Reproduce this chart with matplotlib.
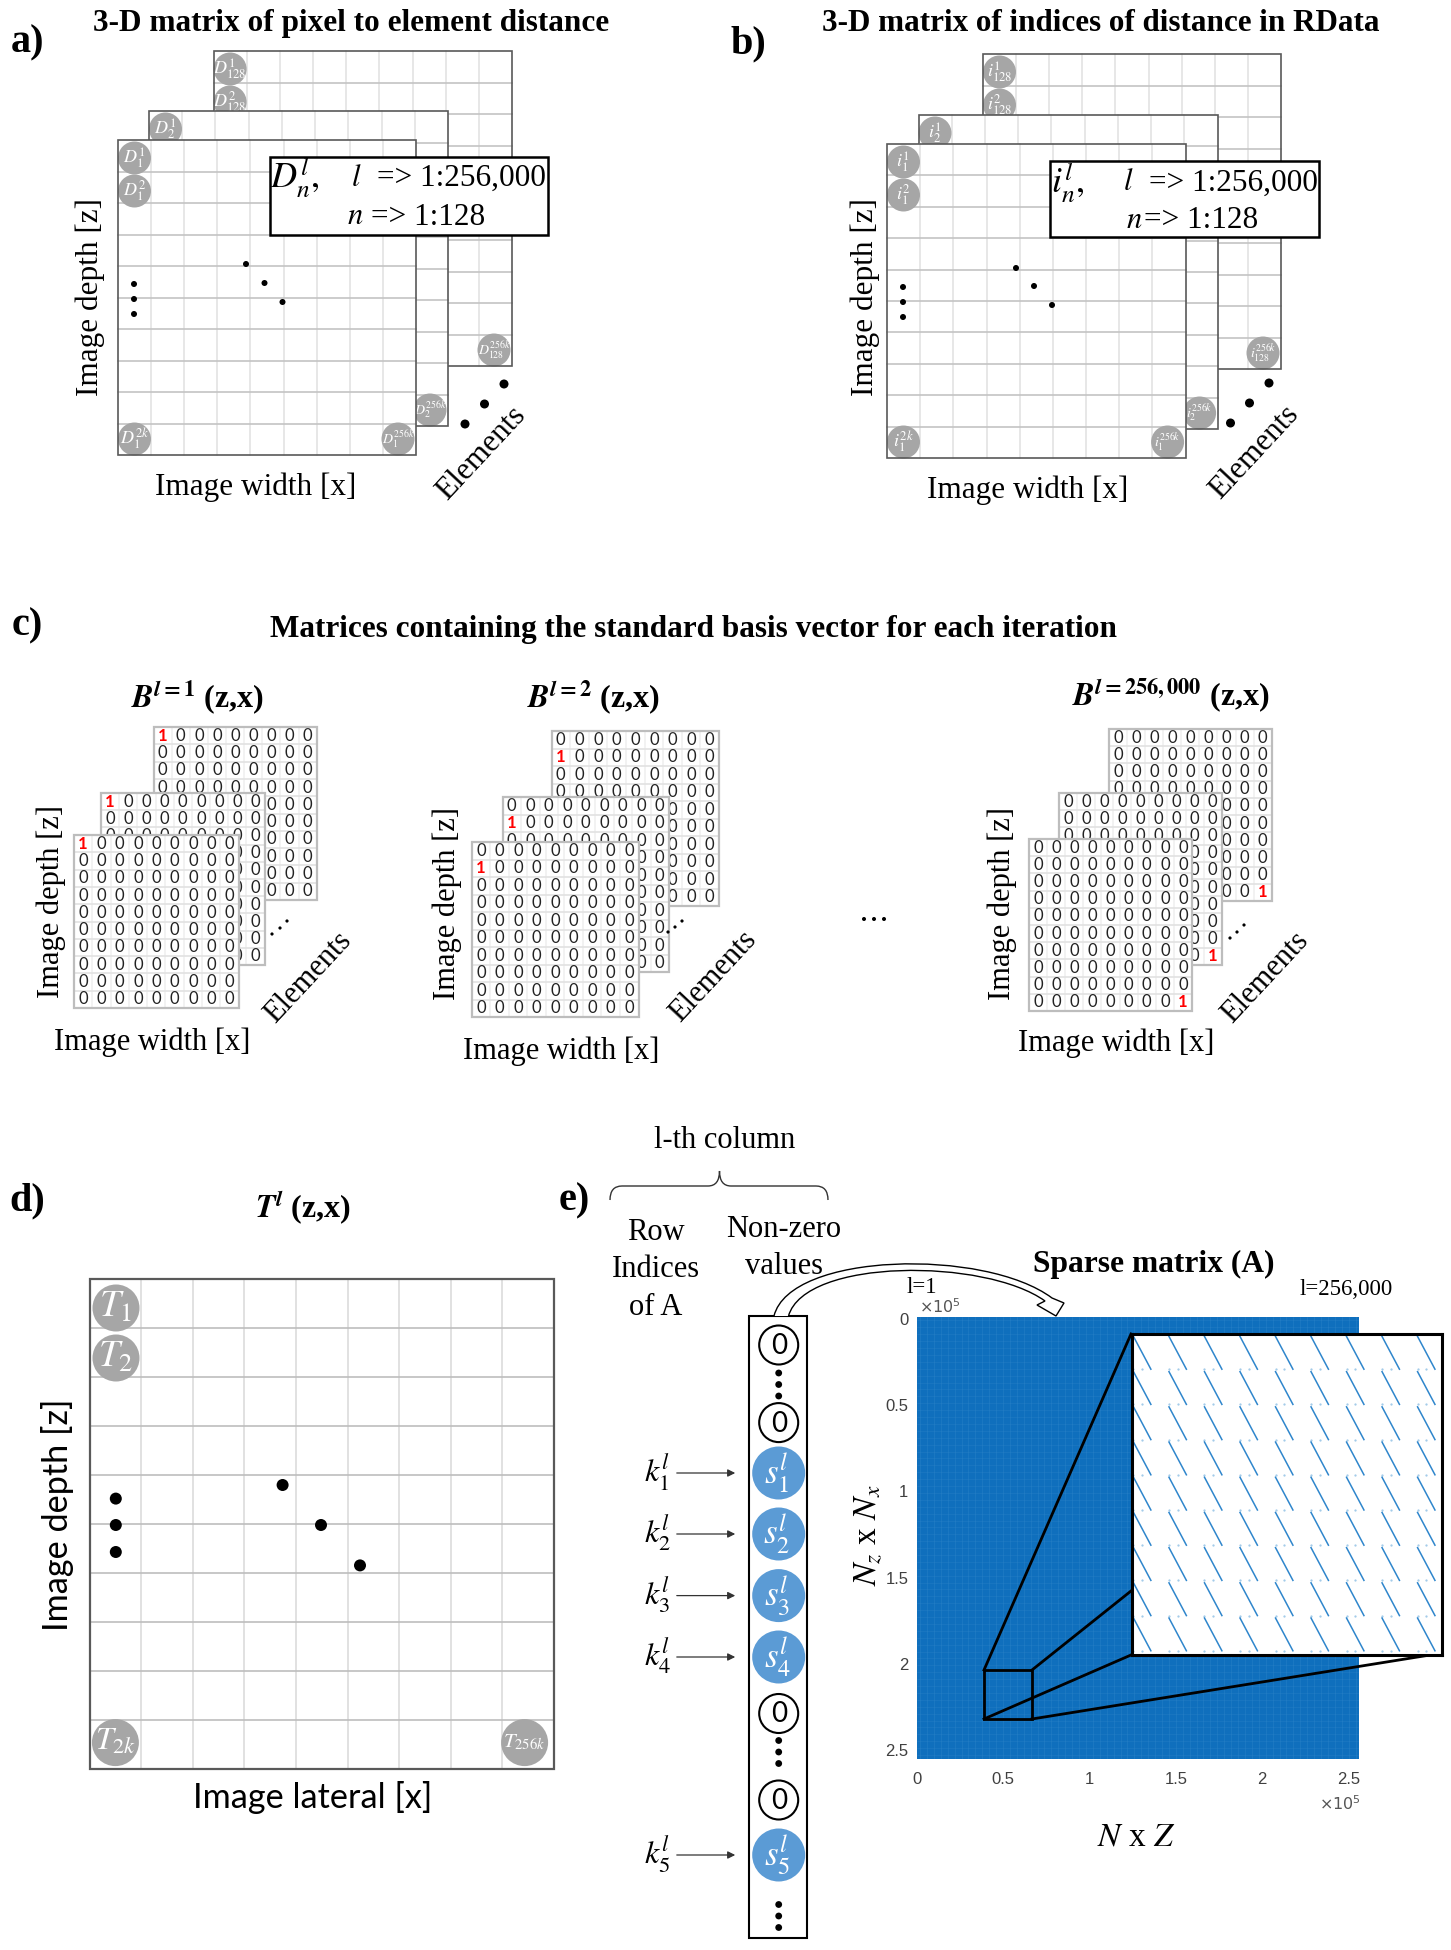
import matplotlib
matplotlib.use("Agg")
import matplotlib.pyplot as plt
import numpy as np
from matplotlib.font_manager import FontProperties
from matplotlib.patches import Circle, PathPatch, Rectangle
from matplotlib.path import Path
from matplotlib.textpath import TextPath
from matplotlib.transforms import ScaledTranslation

plt.rcParams["mathtext.fontset"] = "stix"
plt.rcParams["font.family"] = ["Liberation Serif", "DejaVu Sans"]

W, H = 1451, 1950
SERIF = "Liberation Serif"
GRAY = "#a6a6a6"
BLUE = "#5b9bd5"
SPY_BLUE = "#0f6fbd"

# =============================================================================
# CHART CONTENT
# =============================================================================

title_a = "3-D matrix of pixel to element distance"
title_b = "3-D matrix of indices of distance in RData"
title_c = "Matrices containing the standard basis vector for each iteration"

# circle labels: top row, second row, bottom left, bottom right
labels_a = [
    [r"$D_{128}^{1}$", r"$D_{128}^{2}$", "", r"$D_{128}^{256k}$"],
    [r"$D_{2}^{1}$", "", "", r"$D_{2}^{256k}$"],
    [r"$D_{1}^{1}$", r"$D_{1}^{2}$", r"$D_{1}^{2k}$", r"$D_{1}^{256k}$"],
]
labels_b = [
    [r"$i_{128}^{1}$", r"$i_{128}^{2}$", "", r"$i_{128}^{256k}$"],
    [r"$i_{2}^{1}$", "", "", r"$i_{2}^{256k}$"],
    [r"$i_{1}^{1}$", r"$i_{1}^{2}$", r"$i_{1}^{2k}$", r"$i_{1}^{256k}$"],
]
labels_d = [r"$T_1$", r"$T_2$", r"$T_{2k}$", r"$T_{256k}$"]

# (row, column) of the red 1 in the matrices of panel c
one_cells = [(0, 0), (1, 0), (9, 8)]
basis_titles = [
    r"$\mathbfit{B}^{\mathbfit{l}\mathbf{=1}}$ (z,x)",
    r"$\mathbfit{B}^{\mathbfit{l}\mathbf{=2}}$ (z,x)",
    r"$\mathbfit{B}^{\mathbfit{l}\mathbf{=256,000}}$ (z,x)",
]

column_entries = ["0", "dots", "0", "s1", "s2", "s3", "s4", "0", "dots", "0", "s5", "dots"]

spy_ticks = [0, 0.5, 1, 1.5, 2, 2.5]
spy_ticklabels = ["0", "0.5", "1", "1.5", "2", "2.5"]
spy_limit = 2.56

# =============================================================================
# HELPERS
# =============================================================================


def fit(s, width, family=SERIF, weight="normal"):
    """Font size in points that makes plain text s about width pixels wide."""
    fp = FontProperties(family=family, weight=weight)
    w = TextPath((0, 0), s, size=10, prop=fp).get_extents().width
    return 10 * width / w * 72 / 100


def label(x, y, s, size=22, **kw):
    kw.setdefault("ha", "center")
    kw.setdefault("va", "center")
    kw.setdefault("zorder", 60)
    # plain text sits a little high when centred
    if "$" not in s:
        rot = kw.get("rotation", 0)
        if rot == 90:
            x += 2.5
        elif rot == 0:
            y += 2.5
        else:
            x += 3
    ax.text(x, y, s, fontsize=size, **kw)


def dot(x, y, r, z=60, color="black"):
    ax.add_patch(Circle((x, y), r, fc=color, ec="none", zorder=z))


def frame(x0, y0, x1, y1, z, edge="#595959", hgrid="#c4c4c4", vgrid="#e0e0e0", lw=1.2):
    ax.add_patch(Rectangle((x0, y0), x1 - x0, y1 - y0, fc="white", ec="none", zorder=z))
    for x in np.linspace(x0, x1, 10)[1:-1]:
        ax.plot([x, x], [y0, y1], color=vgrid, lw=1.1, zorder=z + 0.1)
    for y in np.linspace(y0, y1, 11)[1:-1]:
        ax.plot([x0, x1], [y, y], color=hgrid, lw=1.2, zorder=z + 0.1)
    ax.add_patch(Rectangle((x0, y0), x1 - x0, y1 - y0, fc="none", ec=edge, lw=lw, zorder=z + 0.4))


def stack(frames, names):
    for k, (box, texts) in enumerate(zip(frames, names)):
        x0, y0, x1, y1 = box
        z = 10 + 3 * k
        frame(x0, y0, x1, y1, z)
        spots = [
            (x0 + 16.5, y0 + 18),
            (x0 + 16.5, y0 + 51),
            (x0 + 16.5, y1 - 16),
            (x1 - 18, y1 - 16),
        ]
        for (cx, cy), s in zip(spots, texts):
            if not s:
                continue
            ax.add_patch(Circle((cx, cy), 16.5, fc=GRAY, ec="none", zorder=z + 0.2))
            ax.text(cx, cy, s, color="white", fontsize=10 if "256k" in s else 13,
                    ha="center", va="center", zorder=z + 0.3)


def zero_matrix(x0, y0, x1, y1, z, one, covers=()):
    frame(x0, y0, x1, y1, z, edge="#bdbdbd", hgrid="#e2e2e2", vgrid="#efefef", lw=1.6)
    dx = (x1 - x0) / 9
    dy = (y1 - y0) / 10
    for r in range(10):
        for c in range(9):
            cx, cy = x0 + (c + 0.5) * dx, y0 + (r + 0.5) * dy
            # digits that a frame in front hides completely are left out
            if any(b[0] < cx - 6 and cx + 6 < b[2] and b[1] < cy - 8 and cy + 8 < b[3] for b in covers):
                continue
            if (r, c) == one:
                ax.text(cx, cy, "1", color="red", fontsize=12, family="Lato", weight="bold",
                        ha="center", va="center", zorder=z + 0.3)
            else:
                ax.text(cx, cy, "0", color="#222222", fontsize=12, family="Lato",
                        ha="center", va="center", zorder=z + 0.3)


# =============================================================================
# FIGURE
# =============================================================================

fig = plt.figure(figsize=(W / 100, H / 100), dpi=100)
ax = fig.add_axes([0, 0, 1, 1], zorder=2)
ax.set_xlim(0, W)
ax.set_ylim(H, 0)
ax.axis("off")

# -----------------------------------------------------------------------------
# a) and b)
# -----------------------------------------------------------------------------
label(28, 40, "a)", 29, weight="bold")
label(351.5, 21, title_a, fit(title_a, 513, weight="bold"), weight="bold")
stack([(213.6, 51, 512, 366), (149, 111, 448, 426), (118, 140, 416, 455)], labels_a)
label(88, 297, "Image depth [z]", 22.5, rotation=90)
label(256, 485, "Image width [x]", 22.5)
label(478.5, 453, "Elements", 22.5, rotation=47)
for x, y in [(134, 284), (134, 299), (134, 314), (246, 264), (264.5, 283), (282.5, 302)]:
    dot(x, y, 3)
for x, y in [(465, 424), (484.5, 404), (504, 384)]:
    dot(x, y, 4.5)

ax.add_patch(Rectangle((270, 157), 278, 78, fc="white", ec="black", lw=1.8, zorder=50))
label(270, 178, r"$D_n^l,$", 26, ha="left")
label(351, 178, r"$l$", 22, ha="left")
label(377, 176, "=> 1:256,000", 22.5, ha="left")
label(347, 217, r"$n$", 22, ha="left")
label(371, 215, "=> 1:128", 22.5, ha="left")

label(748, 41, "b)", 29, weight="bold")
label(1101, 21, title_b, fit(title_b, 556, weight="bold"), weight="bold")
stack([(983, 54, 1281, 369), (918.5, 115, 1217.6, 429), (887, 144, 1185.6, 458)], labels_b)
label(862.5, 297.5, "Image depth [z]", 22.5, rotation=90)
label(1027.5, 488, "Image width [x]", 22.5)
label(1251, 452, "Elements", 22.5, rotation=47)
for x, y in [(903, 287), (903, 302), (903, 317), (1016, 268), (1034, 286), (1052, 305)]:
    dot(x, y, 3)
for x, y in [(1230.5, 423), (1249.5, 403), (1269, 383)]:
    dot(x, y, 4.5)

ax.add_patch(Rectangle((1049.5, 161), 269, 76, fc="white", ec="black", lw=1.8, zorder=50))
label(1051, 183, r"$i_n^l,$", 26, ha="left")
label(1123, 183, r"$l$", 22, ha="left")
label(1148.6, 181, "=> 1:256,000", 22.5, ha="left")
label(1126, 220, r"$n$", 22, ha="left")
label(1144, 218, "=> 1:128", 22.5, ha="left")

# -----------------------------------------------------------------------------
# c)
# -----------------------------------------------------------------------------
label(27, 623, "c)", 29, weight="bold")
label(694, 627, title_c, fit(title_c, 844, weight="bold"), weight="bold")

sets = [
    dict(
        boxes=[(153.5, 727, 316.7, 900), (101, 793, 264.5, 965), (74, 835, 238.6, 1008)],
        depth=(48.5, 902), width=(152.5, 1040), elem=(305, 977),
        dots=[(272, 934), (280, 928), (287, 921)], title=(197, 697),
    ),
    dict(
        boxes=[(551.5, 731, 719, 906), (502.5, 797, 669, 972), (471.6, 842, 638.5, 1017)],
        depth=(445, 903), width=(561, 1049), elem=(710, 976),
        dots=[(668, 932), (675, 927), (682, 921)], title=(593, 697),
    ),
    dict(
        boxes=[(1109, 729, 1271.7, 901), (1059, 793, 1221.7, 965), (1029, 839, 1192, 1011)],
        depth=(1000, 904), width=(1116, 1041), elem=(1262, 977),
        dots=[(1230, 938), (1237, 932), (1244, 925)], title=(1171, 695),
    ),
]
for s, one, ttl in zip(sets, one_cells, basis_titles):
    for k, box in enumerate(s["boxes"]):
        zero_matrix(*box, 10 + 3 * k, one, covers=s["boxes"][k + 1:])
    label(*s["depth"], "Image depth [z]", 22, rotation=90)
    label(*s["width"], "Image width [x]", 22)
    label(*s["elem"], "Elements", 22, rotation=47)
    for x, y in s["dots"]:
        dot(x, y, 1.6)
    label(*s["title"], ttl, 23, weight="bold")
for x in [864, 874, 884]:
    dot(x, 919, 2)

# -----------------------------------------------------------------------------
# d)
# -----------------------------------------------------------------------------
label(27, 1198, "d)", 29, weight="bold")
label(303, 1207, r"$\mathbfit{T}^{\mathbfit{l}}$ (z,x)", 23, weight="bold")
frame(89.5, 1278.7, 554, 1768.8, 10, hgrid="#bdbdbd", vgrid="#d9d9d9", lw=1.6)
for (cx, cy), s, size in zip(
    [(116, 1308), (116, 1358), (115.4, 1742.6), (524.6, 1742.6)],
    labels_d, [27, 27, 23, 15]
):
    ax.add_patch(Circle((cx, cy), 23.5, fc=GRAY, ec="none", zorder=11))
    label(cx, cy, s, size, color="white", zorder=12)
for x, y in [(115.8, 1498.6), (115.8, 1525), (115.8, 1552),
             (282.6, 1485), (321, 1525), (360, 1565.4)]:
    dot(x, y, 6)
s = "Image depth [z]"
label(55.5, 1515, s, fit(s, 226, "Lato"), rotation=90, family="Lato")
s = "Image lateral [x]"
label(312.7, 1795, s, fit(s, 233, "Lato"), family="Lato")

# -----------------------------------------------------------------------------
# e)
# -----------------------------------------------------------------------------
label(574, 1198, "e)", 29, weight="bold")
label(725, 1137.5, "l-th column", 22)

# brace over the two column titles
brace = Path(
    [(610, 1200), (610, 1186), (622, 1186), (708, 1186), (719.5, 1186), (719.5, 1171),
     (719.5, 1186), (731, 1186), (816, 1186), (828, 1186), (828, 1200)],
    [Path.MOVETO, Path.CURVE3, Path.CURVE3, Path.LINETO, Path.CURVE3, Path.CURVE3,
     Path.CURVE3, Path.CURVE3, Path.LINETO, Path.CURVE3, Path.CURVE3],
)
ax.add_patch(PathPatch(brace, fc="none", ec="#333333", lw=1.0, zorder=5))

for y, s in zip([1229.5, 1267, 1304.6], ["Row", "Indices", "of A"]):
    label(656, y, s, 22)
for y, s in zip([1227, 1264], ["Non-zero", "values"]):
    label(784, y, s, 22)

# column of the sparse matrix
ax.add_patch(Rectangle((749, 1316), 58.4, 622, fc="white", ec="black", lw=1.5, zorder=5))
column_y = [1345, 1384.5, 1422.6, 1473, 1534, 1595.6, 1657, 1713.5, 1752, 1800, 1855, 1916]
for entry, y in zip(column_entries, column_y):
    if entry == "0":
        ax.add_patch(Circle((778.7, y), 19.5, fc="white", ec="black", lw=1.5, zorder=6))
        label(778.7, y - 1.5, "0", 20, family="Lato")
    elif entry == "dots":
        for dy in (-11.5, 0, 11.5):
            dot(778.7, y + dy, 3.4)
    else:
        n = entry[1]
        ax.add_patch(Circle((778.7, y), 26.5, fc=BLUE, ec="none", zorder=6))
        label(777, y, rf"$s_{n}^l$", 25, color="white")
        label(657, y, rf"$k_{n}^l$", 23)
        ax.annotate("", xy=(738, y), xytext=(674, y), zorder=6,
                    arrowprops=dict(arrowstyle="-|>", color="#333333", lw=0.9, mutation_scale=11))

# hollow arrow from the column to the matrix
arrow = Path(
    [(774, 1316), (790, 1252), (985, 1248), (1052, 1298), (1064, 1303), (1056, 1316),
     (1037, 1305), (1045, 1301), (985, 1258), (805, 1258), (788.5, 1316)],
    [Path.MOVETO, Path.CURVE4, Path.CURVE4, Path.CURVE4, Path.LINETO, Path.LINETO,
     Path.LINETO, Path.LINETO, Path.CURVE4, Path.CURVE4, Path.CURVE4],
)
ax.add_patch(PathPatch(arrow, fc="white", ec="black", lw=1.0, zorder=7))

s = "Sparse matrix (A)"
label(1154, 1262, s, fit(s, 238, weight="bold"), weight="bold")
label(922, 1285, "l=1", 16.5)
label(1346, 1287, "l=256,000", 16.5)
label(940, 1308, r"$\times10^{5}$", 11.5, color="#555555", math_fontfamily="dejavusans")
label(1340, 1805, r"$\times10^{5}$", 11.5, color="#555555", math_fontfamily="dejavusans")
label(868, 1535, r"$N_z$ x $N_x$", 24, rotation=90)
label(1136, 1837, r"$N$ x $Z$", 24)

# sparse matrix pattern
ax_spy = fig.add_axes(
    [916.6 / W, 1 - 1758.5 / H, (1359 - 916.6) / W, (1758.5 - 1317) / H], zorder=1
)
ax_spy.set_facecolor(SPY_BLUE)
ax_spy.set_xlim(0, spy_limit)
ax_spy.set_ylim(spy_limit, 0)
ax_spy.set_xticks(spy_ticks, spy_ticklabels)
ax_spy.set_yticks(spy_ticks, spy_ticklabels)
ax_spy.tick_params(length=0, labelsize=12, labelcolor="#404040")
ax_spy.tick_params(axis="x", pad=10)
ax_spy.tick_params(axis="y", pad=6)
for t in ax_spy.get_xticklabels() + ax_spy.get_yticklabels():
    t.set_family("Liberation Sans")
for t in ax_spy.get_yticklabels():
    t.set_transform(t.get_transform() + ScaledTranslation(0, -2 / 100, fig.dpi_scale_trans))
for sp in ax_spy.spines.values():
    sp.set_visible(False)
for v in np.arange(0.02, spy_limit, 0.04):
    ax_spy.axvline(v, color="#3d8fd0", lw=0.4, alpha=0.45)
    ax_spy.axhline(v, color="#3d8fd0", lw=0.4, alpha=0.35)

# box on the matrix and the lines out to the enlarged view
ax.add_patch(Rectangle((984, 1670), 48, 49, fc="none", ec="black", lw=2, zorder=8))
for start, end in [((984, 1670), (1131, 1334)), ((1032, 1670), (1131, 1591)),
                   ((984, 1719), (1131, 1655)), ((1032, 1719), (1430, 1655))]:
    ax.plot(*zip(start, end), color="black", lw=2, zorder=8)

ax_in = fig.add_axes([1131.7 / W, 1 - 1655 / H, 310 / W, 321 / H], zorder=3)
ax_in.set_xlim(0, 8.73)
ax_in.set_ylim(9.12, 0)
ax_in.set_xticks([])
ax_in.set_yticks([])
for sp in ax_in.spines.values():
    sp.set_linewidth(2.2)
for r in range(9):
    for c in range(9):
        ax_in.plot([c + 0.05, c + 0.54], [r + 0.07, r + 1.0], color="#2f86cc", lw=1.1)
        ax_in.plot([c + 0.05, c + 0.3], [r + 1.0, r + 1.0], ls="none", marker=".",
                   ms=1.2, color="#9cc7e8")

fig.savefig("out.png", dpi=100)
